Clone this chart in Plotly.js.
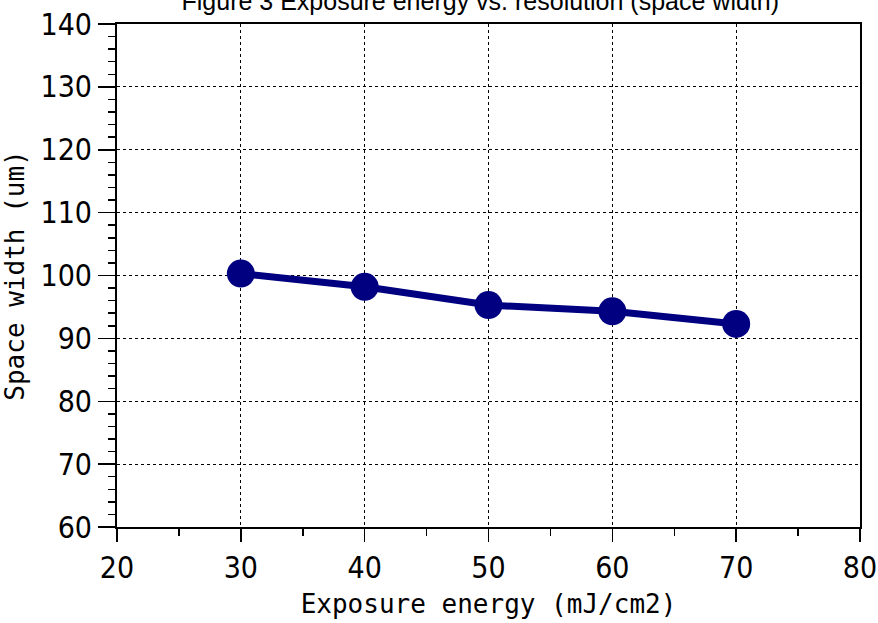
<!DOCTYPE html>
<html>
<head>
<meta charset="utf-8">
<script src="https://cdn.plot.ly/plotly-3.0.1.min.js"></script>
<style>html,body{margin:0;padding:0;background:#fff;}</style>
</head>
<body>
<div id="chart" style="width:878px;height:623px;"></div>
<script>
const exposureEnergy = [30, 40, 50, 60, 70];
const spaceWidth = [100.3, 98.2, 95.3, 94.3, 92.3];
const titleText = 'Figure 3 Exposure energy vs. resolution (space width)';
const xTitle = 'Exposure energy (mJ/cm2)';
const yTitle = 'Space width (um)';

const tickFont = {family: '"DejaVu Sans Condensed", "Liberation Sans", sans-serif', size: 30, color: '#000'};
const titleFont = {family: '"DejaVu Sans Mono", "Liberation Mono", monospace', size: 26, color: '#000'};

const trace = {
  x: exposureEnergy,
  y: spaceWidth,
  type: 'scatter',
  mode: 'lines+markers',
  line: {color: '#000080', width: 7},
  marker: {color: '#000080', size: 28},
  hoverinfo: 'skip'
};

const layout = {
  width: 878, height: 623,
  margin: {l: 117, r: 18, t: 24, b: 96},
  paper_bgcolor: '#fff', plot_bgcolor: '#fff',
  showlegend: false,
  title: {
    text: titleText,
    font: {family: '"Liberation Sans", Arial, sans-serif', size: 25, color: '#000'},
    x: 0.547, xanchor: 'center', xref: 'container',
    y: 0.984, yanchor: 'bottom', yref: 'container'
  },
  xaxis: {
    range: [20, 80], dtick: 10, tick0: 20,
    showline: true, linecolor: '#000', linewidth: 2, mirror: true,
    ticks: 'outside', ticklen: 13, tickwidth: 1.5, tickcolor: '#000',
    minor: {dtick: 5, ticks: 'outside', ticklen: 7, tickwidth: 1.5, tickcolor: '#000', showgrid: false},
    showgrid: true, gridcolor: '#000', gridwidth: 1, griddash: 'dot',
    zeroline: false,
    ticklabeloverflow: 'allow',
    tickfont: tickFont,
    title: {text: xTitle, font: titleFont, standoff: 11}
  },
  yaxis: {
    range: [60, 140], dtick: 10, tick0: 60,
    showline: true, linecolor: '#000', linewidth: 2, mirror: true,
    ticks: 'outside', ticklen: 17, tickwidth: 1.5, tickcolor: '#000',
    minor: {dtick: 2, ticks: 'outside', ticklen: 7, tickwidth: 1.5, tickcolor: '#000', showgrid: false},
    showgrid: true, gridcolor: '#000', gridwidth: 1, griddash: 'dot',
    zeroline: false,
    ticklabeloverflow: 'allow',
    tickfont: tickFont,
    title: {text: yTitle, font: titleFont, standoff: 8}
  }
};

Plotly.newPlot('chart', [trace], layout, {staticPlot: true, displayModeBar: false});
</script>
</body>
</html>
